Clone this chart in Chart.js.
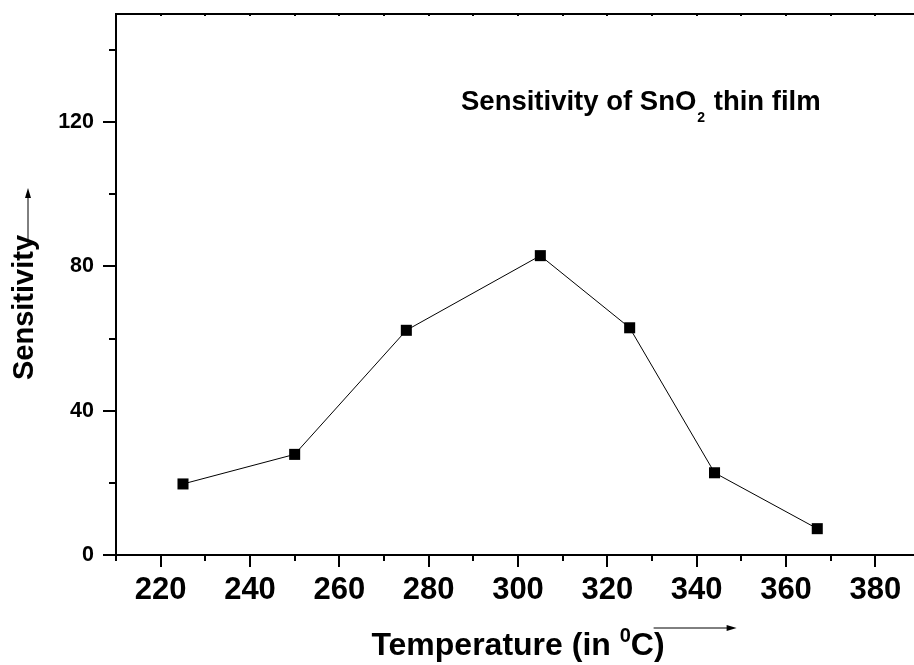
<!DOCTYPE html>
<html>
<head>
  <title>Sensitivity of SnO2 thin film</title>
  <script src="https://cdn.jsdelivr.net/npm/chart.js"></script>
  <style>
    html, body {
      margin: 0;
      padding: 0;
      background-color: #fff;
      overflow: hidden;
    }
    .chart-container {
      width: 930px;
      height: 665px;
    }
  </style>
</head>
<body>
  <div class="chart-container">
    <canvas id="sensChart"></canvas>
  </div>
  <script>
    // measured sensitivity vs operating temperature
    const temperatures = [225, 250, 275, 305, 325, 344, 367];
    const sensitivity = [19.7, 27.9, 62.3, 83.0, 63.0, 22.8, 7.3];

    const xTickValues = [210, 220, 230, 240, 250, 260, 270, 280, 290, 300, 310, 320, 330, 340, 350, 360, 370, 380, 390];
    const xTickLabels = ['', '220', '', '240', '', '260', '', '280', '', '300', '', '320', '', '340', '', '360', '', '380', ''];
    const yTickValues = [0, 20, 40, 60, 80, 100, 120, 140];
    const yTickLabels = ['0', '', '40', '', '80', '', '120', ''];

    const FONT = 'Arial, "Liberation Sans", sans-serif';

    function arrow(ctx, x1, y1, x2, y2) {
      const ang = Math.atan2(y2 - y1, x2 - x1);
      ctx.beginPath();
      ctx.moveTo(x1, y1);
      ctx.lineTo(x2 - 8 * Math.cos(ang), y2 - 8 * Math.sin(ang));
      ctx.stroke();
      ctx.beginPath();
      ctx.moveTo(x2, y2);
      ctx.lineTo(x2 - 10 * Math.cos(ang) + 3 * Math.sin(ang), y2 - 10 * Math.sin(ang) - 3 * Math.cos(ang));
      ctx.lineTo(x2 - 10 * Math.cos(ang) - 3 * Math.sin(ang), y2 - 10 * Math.sin(ang) + 3 * Math.cos(ang));
      ctx.closePath();
      ctx.fill();
    }

    // axis frame, inner/outer tick marks, titles and the caption
    const decor = {
      id: 'decor',
      afterDraw(chart) {
        const { ctx, chartArea: a, scales: { x, y } } = chart;
        ctx.save();
        ctx.strokeStyle = '#000';
        ctx.fillStyle = '#000';
        ctx.lineWidth = 2;
        ctx.beginPath();
        ctx.moveTo(a.left, a.top);
        ctx.lineTo(a.right, a.top);
        ctx.moveTo(a.left, a.top - 1);
        ctx.lineTo(a.left, a.bottom + 1);
        ctx.moveTo(a.left, a.bottom);
        ctx.lineTo(a.right, a.bottom);
        xTickValues.forEach(v => {
          const px = Math.round(x.getPixelForValue(v));
          const len = v % 20 === 0 ? 12 : 6;
          ctx.moveTo(px, a.bottom);
          ctx.lineTo(px, a.bottom + len);
          ctx.moveTo(px, a.top);
          ctx.lineTo(px, a.top + 2);
        });
        yTickValues.forEach(v => {
          const py = Math.round(y.getPixelForValue(v));
          const len = v % 40 === 0 ? 13 : 7;
          ctx.moveTo(a.left, py);
          ctx.lineTo(a.left - len, py);
        });
        ctx.stroke();

        // x title with superscript degree sign
        ctx.textBaseline = 'alphabetic';
        ctx.textAlign = 'left';
        const big = 'bold 32px ' + FONT;
        const sup = 'bold 20px ' + FONT;
        ctx.font = big;
        const w1 = ctx.measureText('Temperature (in ').width;
        const w3 = ctx.measureText('C)').width;
        ctx.font = sup;
        const w2 = ctx.measureText('0').width;
        const total = w1 + w2 + w3;
        const tx = (a.left + a.right) / 2 - total / 2;
        const base = 655;
        ctx.font = big;
        ctx.fillText('Temperature (in ', tx, base);
        ctx.font = sup;
        ctx.fillText('0', tx + w1, base - 13);
        ctx.font = big;
        ctx.fillText('C)', tx + w1 + w2, base);
        ctx.lineWidth = 1;
        arrow(ctx, tx + total - 11, 628, tx + total + 72, 628);

        // y title, rotated
        ctx.save();
        ctx.translate(33, 380);
        ctx.rotate(-Math.PI / 2);
        ctx.font = 'bold 29px ' + FONT;
        ctx.fillText('Sensitivity', 0, 0);
        const yw = ctx.measureText('Sensitivity').width;
        ctx.restore();
        arrow(ctx, 28, 380 - yw + 10, 28, 188);

        // caption inside the plot
        const cap = 'bold 27.5px ' + FONT;
        const sub = 'bold 14px ' + FONT;
        ctx.font = cap;
        const c1 = 'Sensitivity of SnO';
        ctx.fillText(c1, 461, 110);
        const cw1 = ctx.measureText(c1).width;
        ctx.font = sub;
        ctx.fillText('2', 461 + cw1 + 1, 122);
        const cw2 = ctx.measureText('2').width;
        ctx.font = cap;
        ctx.fillText(' thin film', 461 + cw1 + cw2 + 2, 110);
        ctx.restore();
      }
    };

    const ctx = document.getElementById('sensChart').getContext('2d');
    new Chart(ctx, {
      type: 'line',
      data: {
        datasets: [{
          label: 'Sensitivity',
          data: temperatures.map((t, i) => ({ x: t, y: sensitivity[i] })),
          borderColor: '#000',
          borderWidth: 1,
          backgroundColor: '#000',
          pointStyle: 'rect',
          pointRadius: 7.8,
          pointBorderWidth: 0,
          tension: 0,
          fill: false
        }]
      },
      options: {
        responsive: true,
        maintainAspectRatio: false,
        animation: false,
        layout: { padding: { top: 14, right: 10, left: 0, bottom: 0 } },
        plugins: {
          legend: { display: false },
          tooltip: { enabled: false }
        },
        scales: {
          x: {
            type: 'linear',
            min: 210,
            max: 390,
            grid: { display: false },
            border: { display: false },
            afterBuildTicks: s => { s.ticks = xTickValues.map(v => ({ value: v })); },
            afterFit: s => { s.height = 110; s.paddingLeft = 0; s.paddingRight = 0; },
            ticks: {
              autoSkip: false,
              maxRotation: 0,
              padding: 9,
              color: '#000',
              font: { family: FONT, size: 31, weight: 'bold' },
              callback: (v, i) => xTickLabels[i]
            }
          },
          y: {
            min: 0,
            max: 150,
            grid: { display: false },
            border: { display: false },
            afterBuildTicks: s => { s.ticks = yTickValues.map(v => ({ value: v })); },
            afterFit: s => { s.width = 116; s.paddingTop = 0; s.paddingBottom = 0; },
            ticks: {
              autoSkip: false,
              padding: 14,
              color: '#000',
              font: { family: FONT, size: 21.5, weight: 'bold' },
              callback: (v, i) => yTickLabels[i]
            }
          }
        }
      },
      plugins: [decor]
    });
  </script>
</body>
</html>
